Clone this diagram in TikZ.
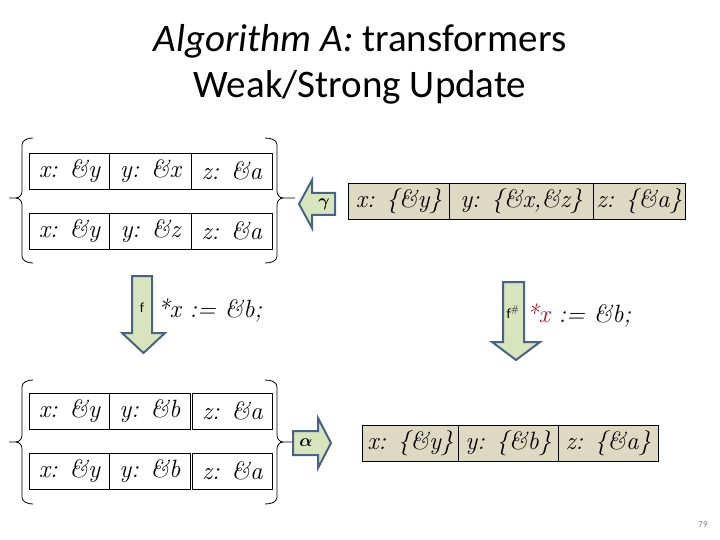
\documentclass[tikz,border=0pt]{standalone}
\usepackage{fontspec}
\usepackage{amsmath}
\usepackage{bm}
\newfontfamily\calibri{Carlito}
\newcommand\handf{\fontsize{25}{30}\selectfont\itshape}
\definecolor{arrfill}{HTML}{D7E4BD}
\definecolor{arrline}{HTML}{4A6285}
\definecolor{absfill}{HTML}{DDD9C3}
\definecolor{redtxt}{HTML}{B01020}
\begin{document}
\begin{tikzpicture}[x=1pt,y=-1pt,
  cell/.style={draw=black, line width=0.9pt, minimum height=36pt, inner sep=0pt, font=\handf, anchor=west},
  acell/.style={cell, fill=absfill},
  bigarrow/.style={draw=arrline, fill=arrfill, line width=2pt, line join=miter},
  bracel/.style={draw=black, line width=0.8pt},
  arrlabel/.style={font=\calibri\fontsize{14}{16}\selectfont, inner sep=0pt},
  stmt/.style={font=\handf, anchor=west, inner sep=0pt}]
\useasboundingbox (0,0) rectangle (720,540);

% title
\node[font=\calibri\fontsize{39}{46}\selectfont, align=center] (title) at (360,64)
  {\textit{Algorithm A:} transformers\\Weak/Strong Update};
\node[font=\calibri\fontsize{9}{10}\selectfont, text=gray] (pg) at (703,525) {79};

% top concrete set
\node[cell, minimum width=80pt] (c11) at (29,171) {x: \&y};
\node[cell, minimum width=82pt] (c12) at (109,171) {y: \&x};
\node[cell, minimum width=81pt] (c13) at (191,171) {z: \&a};
\node[cell, minimum width=80pt] (c21) at (29,231) {x: \&y};
\node[cell, minimum width=82pt] (c22) at (109,231) {y: \&z};
\node[cell, minimum width=81pt] (c23) at (191,231) {z: \&a};

% braces top
\draw[bracel] (33,138) to[out=180,in=90] (22,145) -- (22,191) to[out=-90,in=0] (16,198) -- (9,198);
\draw[bracel] (16,198) to[out=0,in=90] (22,205) -- (22,256) to[out=-90,in=180] (33,263);
\draw[bracel] (265,138) to[out=0,in=90] (277,145) -- (277,191) to[out=-90,in=180] (283,198) -- (295,198);
\draw[bracel] (283,198) to[out=180,in=90] (277,205) -- (277,256) to[out=-90,in=0] (265,263);

% gamma arrow
\draw[bigarrow] (299,204) -- (312,180) -- (312,193) -- (335,193) -- (335,215) -- (312,215) -- (312,228) -- cycle;
\node[font=\fontsize{17}{20}\selectfont, inner sep=0pt] (gam) at (324,204) {$\bm{\gamma}$};

% abstract top
\node[acell, minimum width=101pt] (a11) at (348,201) {x: \{\&y\}};
\node[acell, minimum width=144pt] (a12) at (449,201) {y: \{\&x,\&z\}};
\node[acell, minimum width=92pt] (a13) at (593,201) {z: \{\&a\}};

% left down arrow
\draw[bigarrow] (132,276) -- (152,276) -- (152,333) -- (165,333) -- (143.5,353) -- (122,333) -- (132,333) -- cycle;
\node[arrlabel] (f) at (142,308) {f};
\node[stmt] (s1) at (157,311) {*x := \&b;};

% right down arrow
\draw[bigarrow] (503,282) -- (524,282) -- (524,342) -- (540,342) -- (516,360) -- (492,342) -- (503,342) -- cycle;
\node[arrlabel] (fs) at (513,312) {f$^{\#}$};
\node[stmt] (s2) at (526,316) {\textcolor{redtxt}{*x} := \&b;};

% bottom concrete set
\node[cell, minimum width=80pt] (d11) at (29,411) {x: \&y};
\node[cell, minimum width=81pt] (d12) at (109,411) {y: \&b};
\node[cell, minimum width=80pt] (d13) at (192,411) {z: \&a};
\node[cell, minimum width=80pt] (d21) at (29,471) {x: \&y};
\node[cell, minimum width=81pt] (d22) at (109,471) {y: \&b};
\node[cell, minimum width=80pt] (d23) at (192,471) {z: \&a};

% braces bottom
\draw[bracel] (33,380) to[out=180,in=90] (22,387) -- (22,435) to[out=-90,in=0] (16,442) -- (9,442);
\draw[bracel] (16,442) to[out=0,in=90] (22,449) -- (22,497) to[out=-90,in=180] (33,504);
\draw[bracel] (265,380) to[out=0,in=90] (277,387) -- (277,435) to[out=-90,in=180] (283,442) -- (295,442);
\draw[bracel] (283,442) to[out=180,in=90] (277,449) -- (277,497) to[out=-90,in=0] (265,504);

% alpha arrow
\draw[bigarrow] (293,431) -- (318,431) -- (318,418) -- (331,443) -- (318,468) -- (318,455) -- (293,455) -- cycle;
\node[font=\fontsize{17}{20}\selectfont, inner sep=0pt] (alp) at (306,443) {$\bm{\alpha}$};

% abstract bottom
\node[acell, minimum width=96pt] (b11) at (362,443) {x: \{\&y\}};
\node[acell, minimum width=100pt] (b12) at (458,443) {y: \{\&b\}};
\node[acell, minimum width=100pt] (b13) at (558,443) {z: \{\&a\}};
\end{tikzpicture}
\end{document}
